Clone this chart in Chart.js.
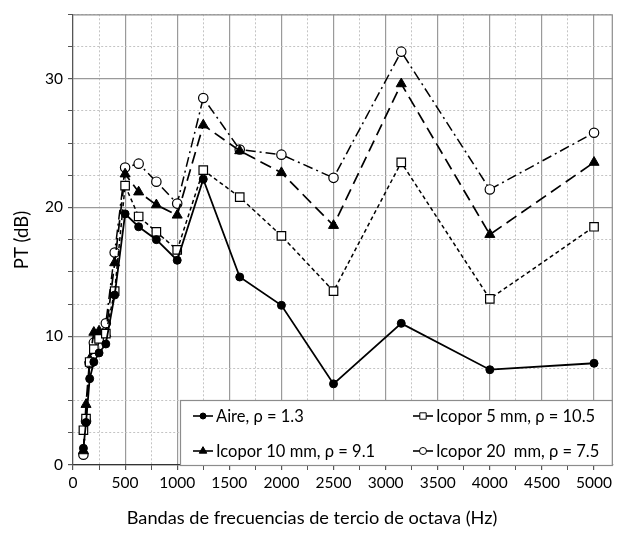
<!DOCTYPE html>
<html><head><meta charset="utf-8">
<script src="https://cdn.jsdelivr.net/npm/chart.js@4/dist/chart.umd.min.js"></script>
<style>html,body{margin:0;padding:0;background:#fff}#wrap{width:620px;height:535px;position:relative}</style>
</head><body><div id="wrap"><canvas id="c" width="620" height="535"></canvas></div>
<script>
const frequencies = [100,125,160,200,250,315,400,500,630,800,1000,1250,1600,2000,2500,3150,4000,5000];
const aire     = [1.3,3.3,6.7,8.0,8.7,9.4,13.2,19.5,18.5,17.5,15.9,22.2,14.6,12.4,6.3,11.0,7.4,7.9];
const icopor5  = [2.7,3.6,8.0,9.0,9.8,10.2,13.5,21.7,19.3,18.1,16.7,22.9,20.8,17.8,13.5,23.5,12.9,18.5];
const icopor10 = [1.1,4.7,8.2,10.3,10.4,10.2,15.7,22.6,21.2,20.2,19.4,26.4,24.4,22.7,18.6,29.6,17.9,23.5];
const icopor20 = [0.8,3.4,7.9,9.5,10.0,11.0,16.5,23.1,23.4,22.0,20.3,28.5,24.5,24.1,22.3,32.1,21.4,25.8];
const seriesNames = ['Aire, ρ = 1.3','Icopor 5 mm, ρ = 10.5','Icopor 10 mm, ρ = 9.1','Icopor 20  mm, ρ = 7.5'];
const xTickLabels = [0,500,1000,1500,2000,2500,3000,3500,4000,4500,5000];
const yTickLabels = [0,10,20,30];
const xTitle = 'Bandas de frecuencias de tercio de octava (Hz)';
const yTitle = 'PT (dB)';

const FONT = 'Lato, "Open Sans", sans-serif';
const pts = arr => frequencies.map((f,i)=>({x:f,y:arr[i]}));

const styles = [
  {borderWidth:1.8, borderDash:[], pointStyle:'circle', pointRadius:4, pointBackgroundColor:'#000', pointBorderWidth:1},
  {borderWidth:1.5, borderDash:[4,3], pointStyle:'rect', pointRadius:6, pointBackgroundColor:'#fff', pointBorderWidth:1.2},
  {borderWidth:1.7, borderDash:[12,6], pointStyle:'triangle', pointRadius:5.8, pointBackgroundColor:'#000', pointBorderWidth:1},
  {borderWidth:1.5, borderDash:[10,4,2,4], pointStyle:'circle', pointRadius:4.7, pointBackgroundColor:'#fff', pointBorderWidth:1.2}
];
const seriesData = [aire, icopor5, icopor10, icopor20];
const datasets = seriesData.map((d,i)=>Object.assign({
  label: seriesNames[i], data: pts(d), borderColor:'#000', pointBorderColor:'#000',
  showLine:true, tension:0, pointHoverRadius:0
}, styles[i]));

const frame = {
  id:'frame',
  afterDatasetsDraw(chart){
    const {ctx, chartArea:a} = chart;
    ctx.save();
    ctx.strokeStyle='#8c8c8c'; ctx.lineWidth=1.2;
    ctx.beginPath();
    ctx.moveTo(a.left, a.top+0.5); ctx.lineTo(a.right-0.5, a.top+0.5); ctx.lineTo(a.right-0.5, a.bottom);
    ctx.stroke();
    // legend
    const x0=180, y0=400, x1=a.right-0.5, y1=a.bottom;
    ctx.fillStyle='#fff'; ctx.fillRect(x0,y0,x1-x0,y1-y0);
    ctx.strokeStyle='#8c8c8c'; ctx.lineWidth=1.2;
    ctx.strokeRect(x0+0.5,y0+0.5,x1-x0-0.5,y1-y0);
    const pos = [[193,416],[413,416],[193,451],[413,451]];
    ctx.font = '16.5px '+FONT; ctx.textBaseline='middle'; ctx.textAlign='left';
    chart.data.datasets.forEach((ds,i)=>{
      const [lx,ly]=pos[i];
      ctx.strokeStyle='#000'; ctx.lineWidth=1.6; ctx.setLineDash([]);
      ctx.beginPath(); ctx.moveTo(lx,ly); ctx.lineTo(lx+20,ly); ctx.stroke();
      ctx.fillStyle=ds.pointBackgroundColor; ctx.strokeStyle='#000'; ctx.lineWidth=1;
      Chart.helpers.drawPoint(ctx,{pointStyle:ds.pointStyle, radius:ds.pointRadius*0.75, borderWidth:1, rotation:0}, lx+10, ly);
      ctx.fillStyle='#000';
      ctx.fillText(ds.label, lx+23, ly+1);
    });
    // axis titles
    ctx.fillStyle='#000'; ctx.textAlign='center'; ctx.textBaseline='middle';
    ctx.font='18.2px '+FONT;
    ctx.fillText(xTitle, 312, 518);
    ctx.save();
    ctx.translate(22, 240); ctx.rotate(-Math.PI/2);
    ctx.font='18.5px '+FONT;
    ctx.fillText(yTitle, 0, 0);
    ctx.restore();
    ctx.restore();
  }
};

new Chart(document.getElementById('c'), {
  type:'scatter',
  data:{datasets},
  plugins:[frame],
  options:{
    responsive:false, animation:false, devicePixelRatio:1,
    layout:{padding:{top:12,right:1,left:0,bottom:0}},
    plugins:{legend:{display:false}, tooltip:{enabled:false}},
    scales:{
      x:{
        type:'linear', min:0, max:5180,
        afterBuildTicks: s => { const t=[]; for(let v=0; v<=5000; v+=250) t.push({value:v}); s.ticks=t; },
        afterFit: s => { s.height = 70; },
        ticks:{ autoSkip:false, maxRotation:0, padding:4, color:'#000', font:{family:FONT,size:15.5},
          callback: v => xTickLabels.includes(v) ? String(v) : '' },
        grid:{ color: c => (c.tick && c.tick.value % 500 === 0) ? '#9a9a9a' : '#c4c4c4',
          lineWidth: c => (c.tick && c.tick.value % 500 === 0) ? 1.2 : 1, tickLength:5, tickColor:'#555' },
        border:{ color:'#333', width:1.2, dash: c => (c.tick && c.tick.value % 500 !== 0) ? [2,2] : [] },
        title:{display:false}
      },
      y:{
        min:0, max:35,
        afterBuildTicks: s => { const t=[]; for(let v=0; v<=35; v+=2.5) t.push({value:v}); s.ticks=t; },
        afterFit: s => { s.width = 73; },
        ticks:{ autoSkip:false, padding:5, color:'#000', font:{family:FONT,size:15.5},
          callback: v => yTickLabels.includes(v) ? String(v) : '' },
        grid:{ color: c => (c.tick && c.tick.value % 10 === 0) ? '#9a9a9a' : '#c4c4c4',
          lineWidth: c => (c.tick && c.tick.value % 10 === 0) ? 1.2 : 1, tickLength:5, tickColor:'#555' },
        border:{ color:'#555', width:1.2, dash: c => (c.tick && c.tick.value % 10 !== 0) ? [2,2] : [] },
        title:{display:false}
      }
    }
  }
});
</script></body></html>
